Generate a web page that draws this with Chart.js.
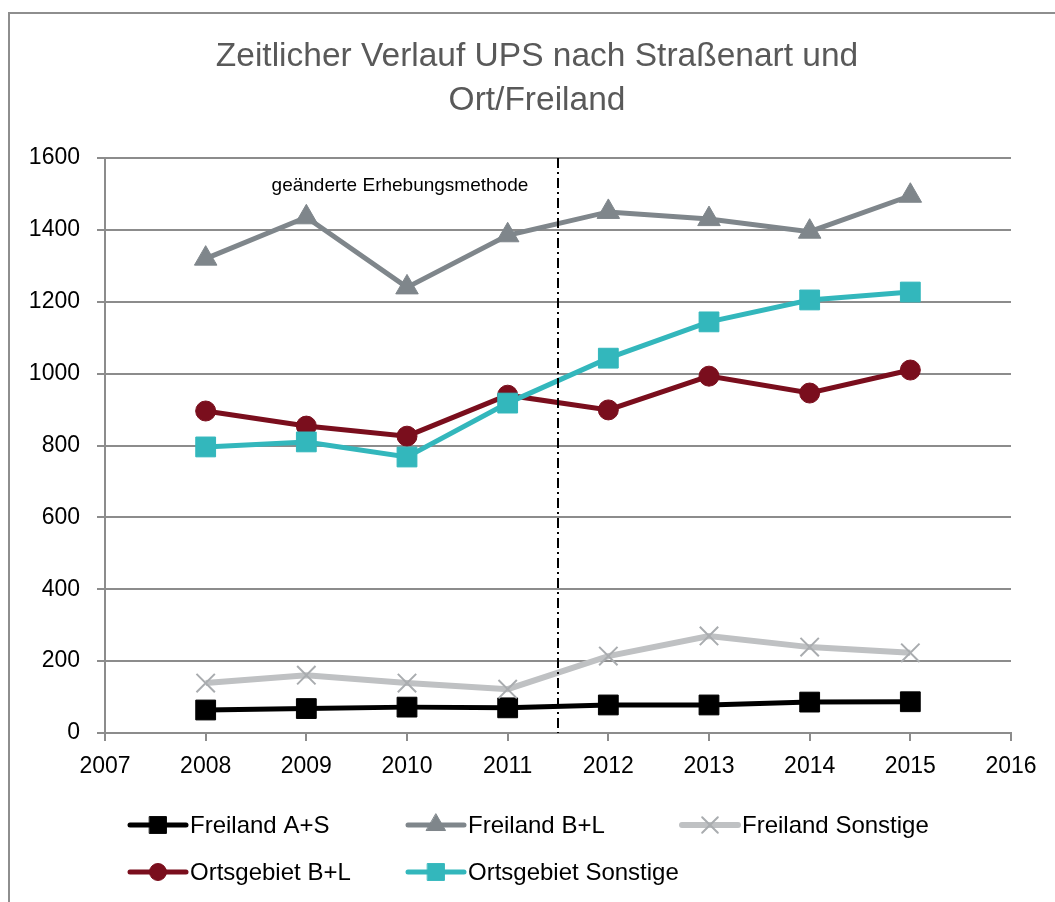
<!DOCTYPE html>
<html lang="de">
<head>
<meta charset="utf-8">
<title>Zeitlicher Verlauf UPS</title>
<script src="https://cdn.jsdelivr.net/npm/chart.js"></script>
<style>
  html, body { margin: 0; padding: 0; background: #fff; overflow: hidden; }
  #rahmen { position: absolute; left: 8px; top: 12px; width: 1100px; height: 950px; border-left: 2px solid #8e8e8e; border-top: 2px solid #8e8e8e; }
  #chartBox { position: absolute; left: 0; top: 0; width: 1045px; height: 888px; }
</style>
</head>
<body>
<div id="rahmen"><div id="chartBox"><canvas id="upsChart"></canvas></div></div>
<script>
// Jahre (x-Achse)
const jahre = [2008, 2009, 2010, 2011, 2012, 2013, 2014, 2015];

// Werte je Reihe
const freilandAS = [64, 68, 72, 70, 78, 78, 86, 87];
const freilandBL = [1320, 1435, 1240, 1385, 1450, 1430, 1395, 1495];
const freilandSonstige = [139, 161, 139, 122, 214, 270, 239, 223];
const ortsgebietBL = [896, 854, 826, 940, 899, 993, 946, 1010];
const ortsgebietSonstige = [796, 810, 768, 918, 1043, 1144, 1205, 1227];

const reihenNamen = ['Freiland A+S', 'Freiland B+L', 'Freiland Sonstige', 'Ortsgebiet B+L', 'Ortsgebiet Sonstige'];
const titelZeilen = ['Zeitlicher Verlauf UPS nach Straßenart und', 'Ort/Freiland'];

// Achsen
const xMin = 2007, xMax = 2016, xSchritt = 1;
const yMin = 0, yMax = 1600, ySchritt = 200;

// Methodenwechsel (senkrechte Linie + Hinweis)
const methodenWechsel = 2011.5;
const hinweisText = 'geänderte Erhebungsmethode';
const hinweisX = 2009.93;
const hinweisY = 1522;

const schrift = '"Liberation Sans", Arial, sans-serif';
Chart.defaults.font.family = schrift;

function punkte(werte) {
    return jahre.map((j, i) => ({ x: j, y: werte[i] }));
}

function reihe(index, werte, farbe, stil, radius, extra) {
    return Object.assign({
        label: reihenNamen[index],
        data: punkte(werte),
        borderColor: farbe,
        backgroundColor: farbe,
        pointBackgroundColor: farbe,
        pointBorderColor: farbe,
        pointStyle: stil,
        pointRadius: radius,
        pointHoverRadius: radius,
        pointBorderWidth: 1,
        borderWidth: 5,
        tension: 0,
        order: 5 - index
    }, extra || {});
}

const datasets = [
    reihe(0, freilandAS, '#000000', 'rect', 14),
    reihe(1, freilandBL, '#7f868b', 'triangle', 13),
    reihe(2, freilandSonstige, '#bfc1c3', 'crossRot', 13, { borderWidth: 6, pointBorderWidth: 2, pointBorderColor: '#a9acaf' }),
    reihe(3, ortsgebietBL, '#7a0e1d', 'circle', 10),
    reihe(4, ortsgebietSonstige, '#33b7bc', 'rect', 14)
];

// Titel, Trennlinie, Hinweis und Legende selbst zeichnen
const extras = {
    id: 'extras',
    afterDatasetsDraw(chart) {
        const ctx = chart.ctx;
        const area = chart.chartArea;
        const xs = chart.scales.x, ys = chart.scales.y;

        // Titel
        ctx.save();
        ctx.fillStyle = '#595959';
        ctx.font = '33.5px ' + schrift;
        ctx.textAlign = 'center';
        ctx.textBaseline = 'middle';
        titelZeilen.forEach((z, i) => ctx.fillText(z, 527, 43 + i * 44));
        ctx.restore();

        // Strich-Punkt-Linie
        const lx = xs.getPixelForValue(methodenWechsel);
        ctx.save();
        ctx.strokeStyle = '#000';
        ctx.lineWidth = 2;
        ctx.setLineDash([10, 4, 2, 4]);
        ctx.beginPath();
        ctx.moveTo(lx, area.top);
        ctx.lineTo(lx, area.bottom);
        ctx.stroke();
        ctx.restore();

        // Hinweis
        ctx.save();
        ctx.fillStyle = '#000';
        ctx.font = '19px ' + schrift;
        ctx.textAlign = 'center';
        ctx.textBaseline = 'middle';
        ctx.fillText(hinweisText, xs.getPixelForValue(hinweisX), ys.getPixelForValue(hinweisY));
        ctx.restore();

        // Legende
        const spalten = [120, 398, 672];
        const zeilen = [811, 858];
        chart.data.datasets.forEach((ds, i) => {
            const x0 = spalten[i % 3];
            const y = zeilen[Math.floor(i / 3)];
            ctx.save();
            ctx.strokeStyle = ds.borderColor;
            ctx.lineWidth = ds.borderWidth;
            ctx.lineCap = 'round';
            ctx.beginPath();
            ctx.moveTo(x0, y);
            ctx.lineTo(x0 + 56, y);
            ctx.stroke();
            ctx.fillStyle = ds.pointBackgroundColor;
            ctx.strokeStyle = ds.pointBorderColor;
            ctx.lineWidth = ds.pointBorderWidth;
            Chart.helpers.drawPoint(ctx, {
                pointStyle: ds.pointStyle,
                radius: ds.pointRadius * 0.85,
                borderWidth: ds.pointBorderWidth,
                rotation: 0
            }, x0 + 28, y);
            ctx.fillStyle = '#000';
            ctx.font = '24px ' + schrift;
            ctx.textAlign = 'left';
            ctx.textBaseline = 'middle';
            ctx.fillText(ds.label, x0 + 60, y + 1);
            ctx.restore();
        });
    }
};

function initChart() {
    const ctx = document.getElementById('upsChart').getContext('2d');
    new Chart(ctx, {
        type: 'line',
        data: { datasets: datasets },
        options: {
            responsive: true,
            maintainAspectRatio: false,
            devicePixelRatio: 1,
            animation: false,
            layout: { padding: { top: 144, left: 0, right: 44, bottom: 109 } },
            plugins: {
                legend: { display: false },
                title: { display: false },
                tooltip: { enabled: false }
            },
            scales: {
                x: {
                    type: 'linear',
                    min: xMin,
                    max: xMax,
                    afterFit: s => { s.height = 60; },
                    ticks: {
                        stepSize: xSchritt,
                        color: '#000',
                        font: { size: 23 },
                        padding: 12,
                        callback: v => String(v)
                    },
                    grid: { drawOnChartArea: false, drawTicks: true, tickLength: 8, color: '#8c8c8c', lineWidth: 2 },
                    border: { display: true, color: '#8c8c8c', width: 2 }
                },
                y: {
                    min: yMin,
                    max: yMax,
                    afterFit: s => { s.width = 95; },
                    ticks: {
                        stepSize: ySchritt,
                        color: '#000',
                        font: { size: 23 },
                        padding: 17,
                        callback: v => String(v)
                    },
                    grid: { color: '#8c8c8c', lineWidth: 2, tickLength: 8 },
                    border: { display: true, color: '#8c8c8c', width: 2 }
                }
            }
        },
        plugins: [extras]
    });
}

window.addEventListener('load', initChart);
</script>
</body>
</html>
